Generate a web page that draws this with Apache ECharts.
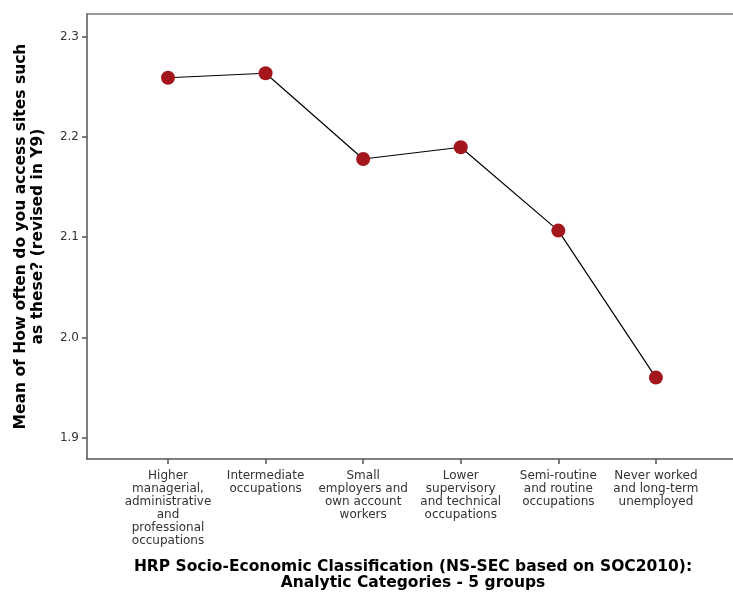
<!DOCTYPE html>
<html>
<head>
<meta charset="utf-8">
<script src="https://cdn.jsdelivr.net/npm/echarts@6/dist/echarts.min.js"></script>
<style>html,body{margin:0;padding:0;background:#fff;}#c{width:733px;height:594px;}</style>
</head>
<body>
<div id="c"></div>
<script>
var categories = [
  "Higher\nmanagerial,\nadministrative\nand\nprofessional\noccupations",
  "Intermediate\noccupations",
  "Small\nemployers and\nown account\nworkers",
  "Lower\nsupervisory\nand technical\noccupations",
  "Semi-routine\nand routine\noccupations",
  "Never worked\nand long-term\nunemployed"
];
var meanValues = [2.259, 2.2635, 2.178, 2.1897, 2.1066, 1.960];
var yTicks = [1.9, 2.0, 2.1, 2.2, 2.3];
var xTicks = [0, 1, 2, 3, 4, 5];

var chart = echarts.init(document.getElementById('c'));
var font = '"DejaVu Sans", sans-serif';
chart.setOption({
  animation: false,
  grid: { left: 87, right: 0, top: 14, bottom: 135, containLabel: false, outerBoundsMode: 'none' },
  xAxis: [{
    type: 'value',
    min: -0.83, max: 5.79,
    position: 'bottom',
    name: 'HRP Socio-Economic Classification (NS-SEC based on SOC2010):\nAnalytic Categories - 5 groups',
    nameLocation: 'middle',
    nameGap: 100,
    nameTextStyle: { fontFamily: font, fontWeight: 'bold', fontSize: 15.5, color: '#000', lineHeight: 16, padding: [0, 0, 0, 6] },
    splitLine: { show: false },
    axisLine: { show: true, onZero: false, lineStyle: { color: '#555', width: 1.5 } },
    axisTick: { show: true, length: 5, customValues: xTicks, lineStyle: { color: '#555', width: 1.5 } },
    axisLabel: {
      customValues: xTicks,
      margin: 10,
      fontFamily: font, fontSize: 12, color: '#333', lineHeight: 13, align: 'center',
      formatter: function (v) { return categories[Math.round(v)] || ''; }
    }
  }, {
    type: 'value',
    min: -0.83, max: 5.79,
    position: 'top',
    splitLine: { show: false },
    axisLine: { show: true, onZero: false, lineStyle: { color: '#777', width: 1.5 } },
    axisTick: { show: false },
    axisLabel: { show: false }
  }],
  yAxis: {
    type: 'value',
    min: 1.8788, max: 2.3226,
    name: 'Mean of How often do you access sites such\nas these? (revised in Y9)',
    nameLocation: 'middle',
    nameGap: 41,
    nameTextStyle: { fontFamily: font, fontWeight: 'bold', fontSize: 15.5, color: '#000', lineHeight: 17 },
    splitLine: { show: false },
    axisLine: { show: true, onZero: false, lineStyle: { color: '#555', width: 1.5 } },
    axisTick: { show: true, length: 5, customValues: yTicks, lineStyle: { color: '#555', width: 1.5 } },
    axisLabel: {
      customValues: yTicks,
      margin: 8,
      fontFamily: font, fontSize: 12, color: '#333',
      formatter: function (v) { return v.toFixed(1); }
    }
  },
  series: [{
    type: 'line',
    data: meanValues.map(function (v, i) { return [xTicks[i], v]; }),
    symbol: 'circle',
    symbolSize: 14,
    itemStyle: { color: '#a3161c' },
    lineStyle: { color: '#000', width: 1.2 },
    z: 3
  }]
});
</script>
</body>
</html>
